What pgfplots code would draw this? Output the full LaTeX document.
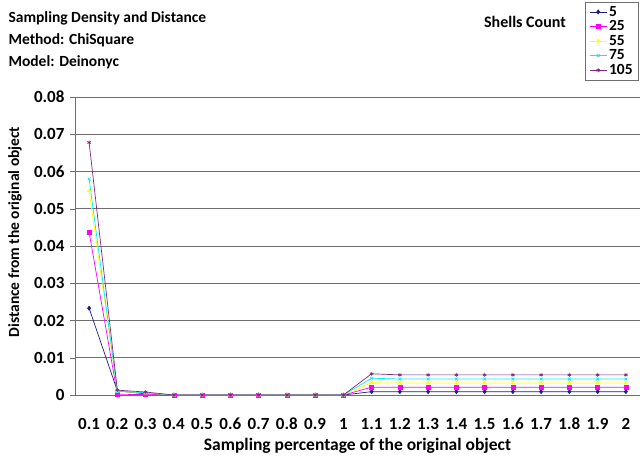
\documentclass[border=0pt]{standalone}
\usepackage{pgfplots}
\pgfplotsset{compat=1.18}
\usepackage{fontspec}
\setmainfont{Carlito}
\definecolor{sNavy}{RGB}{30,30,130}
\definecolor{sMag}{RGB}{255,0,255}
\definecolor{sYel}{RGB}{255,255,0}
\definecolor{sCyan}{RGB}{0,240,240}
\definecolor{sPurp}{RGB}{128,40,128}
\definecolor{gridc}{RGB}{110,110,110}
\begin{document}
\begin{tikzpicture}
\useasboundingbox (0pt,0pt) rectangle (642pt,456pt);
\node[anchor=west,font=\bfseries\fontsize{15.5}{17}\selectfont] at (5pt,438pt) {Sampling Density and Distance};
\node[anchor=west,font=\bfseries\fontsize{15.5}{17}\selectfont] at (5pt,416pt) {Method: ChiSquare};
\node[anchor=west,font=\bfseries\fontsize{15.5}{17}\selectfont] at (5pt,394pt) {Model: Deinonyc};
\node[font=\bfseries\fontsize{16}{17}\selectfont] at (525pt,434pt) {Shells Count};
\begin{axis}[
  at={(75pt,61pt)}, anchor=south west,
  scale only axis, width=565pt, height=298pt,
  xmin=-0.5, xmax=19.5, ymin=0, ymax=0.08,
  axis x line=bottom, axis y line=left,
  axis line style={gridc,-},
  xtick={0,...,19},
  xticklabels={0.1,0.2,0.3,0.4,0.5,0.6,0.7,0.8,0.9,1,1.1,1.2,1.3,1.4,1.5,1.6,1.7,1.8,1.9,2},
  major x tick style={draw=none},
  extra x ticks={-0.5,0.5,...,19.5},
  extra x tick labels={},
  extra x tick style={tick style={gridc,thin}, major tick length=5pt, xtick align=outside, grid=none},
  ytick={0,0.01,...,0.08},
  yticklabels={0,0.01,0.02,0.03,0.04,0.05,0.06,0.07,0.08},
  scaled y ticks=false,
  ytick style={gridc}, ytick align=outside, major tick length=5pt,
  ymajorgrids, grid style={gridc,line width=0.9pt},
  tick label style={font=\bfseries\fontsize{17}{18}\selectfont},
  xticklabel style={anchor=base, yshift=-32pt},
  yticklabel style={anchor=east, xshift=-2pt},
  xlabel={Sampling percentage of the original object},
  ylabel={Distance from the original object},
  xlabel style={font=\bfseries\fontsize{17.5}{19}\selectfont,
    at={(axis description cs:0.5,-0.17)}, anchor=center},
  ylabel style={font=\bfseries\fontsize{15.5}{17}\selectfont,
    at={(axis description cs:-0.106,0.547)}, anchor=center},
  legend style={at={(rel axis cs:0.998,1.319)}, anchor=north east,
    draw=gridc, font=\bfseries\fontsize{15.5}{15.5}\selectfont,
    row sep=-1pt, inner xsep=4pt, inner ysep=2pt, cells={anchor=west}},
  every axis plot/.append style={line width=0.7pt, mark size=2pt},
]
\addplot[sNavy, mark=diamond*, mark options={fill=sNavy}] coordinates {
(0,0.0233)(1,0.0011)(2,0.0003)(3,0)(4,0)(5,0)(6,0)(7,0)(8,0)(9,0)
(10,0.0009)(11,0.0009)(12,0.0009)(13,0.0009)(14,0.0009)(15,0.0009)(16,0.0009)(17,0.0009)(18,0.0009)(19,0.0009)};
\addplot[sMag, mark=square*, mark options={fill=sMag}] coordinates {
(0,0.0437)(1,0.0002)(2,0.0001)(3,0)(4,0)(5,0)(6,0)(7,0)(8,0)(9,0)
(10,0.0021)(11,0.0021)(12,0.0021)(13,0.0021)(14,0.0021)(15,0.0021)(16,0.0021)(17,0.0021)(18,0.0021)(19,0.0021)};
\addplot[sYel, mark=triangle*, mark options={fill=sYel}] coordinates {
(0,0.0548)(1,0.0010)(2,0.0005)(3,0)(4,0)(5,0)(6,0)(7,0)(8,0)(9,0)
(10,0.0033)(11,0.0032)(12,0.0032)(13,0.0032)(14,0.0032)(15,0.0032)(16,0.0032)(17,0.0032)(18,0.0032)(19,0.0032)};
\addplot[sCyan, mark=x] coordinates {
(0,0.0580)(1,0.0010)(2,0.0006)(3,0)(4,0)(5,0)(6,0)(7,0)(8,0)(9,0)
(10,0.0045)(11,0.0043)(12,0.0043)(13,0.0043)(14,0.0043)(15,0.0043)(16,0.0043)(17,0.0043)(18,0.0043)(19,0.0043)};
\addplot[sPurp, mark=asterisk] coordinates {
(0,0.0678)(1,0.0013)(2,0.0008)(3,0)(4,0)(5,0)(6,0)(7,0)(8,0)(9,0)
(10,0.0057)(11,0.0054)(12,0.0054)(13,0.0054)(14,0.0054)(15,0.0054)(16,0.0054)(17,0.0054)(18,0.0054)(19,0.0054)};
\legend{5,25,55,75,105}
\end{axis}
\end{tikzpicture}
\end{document}
